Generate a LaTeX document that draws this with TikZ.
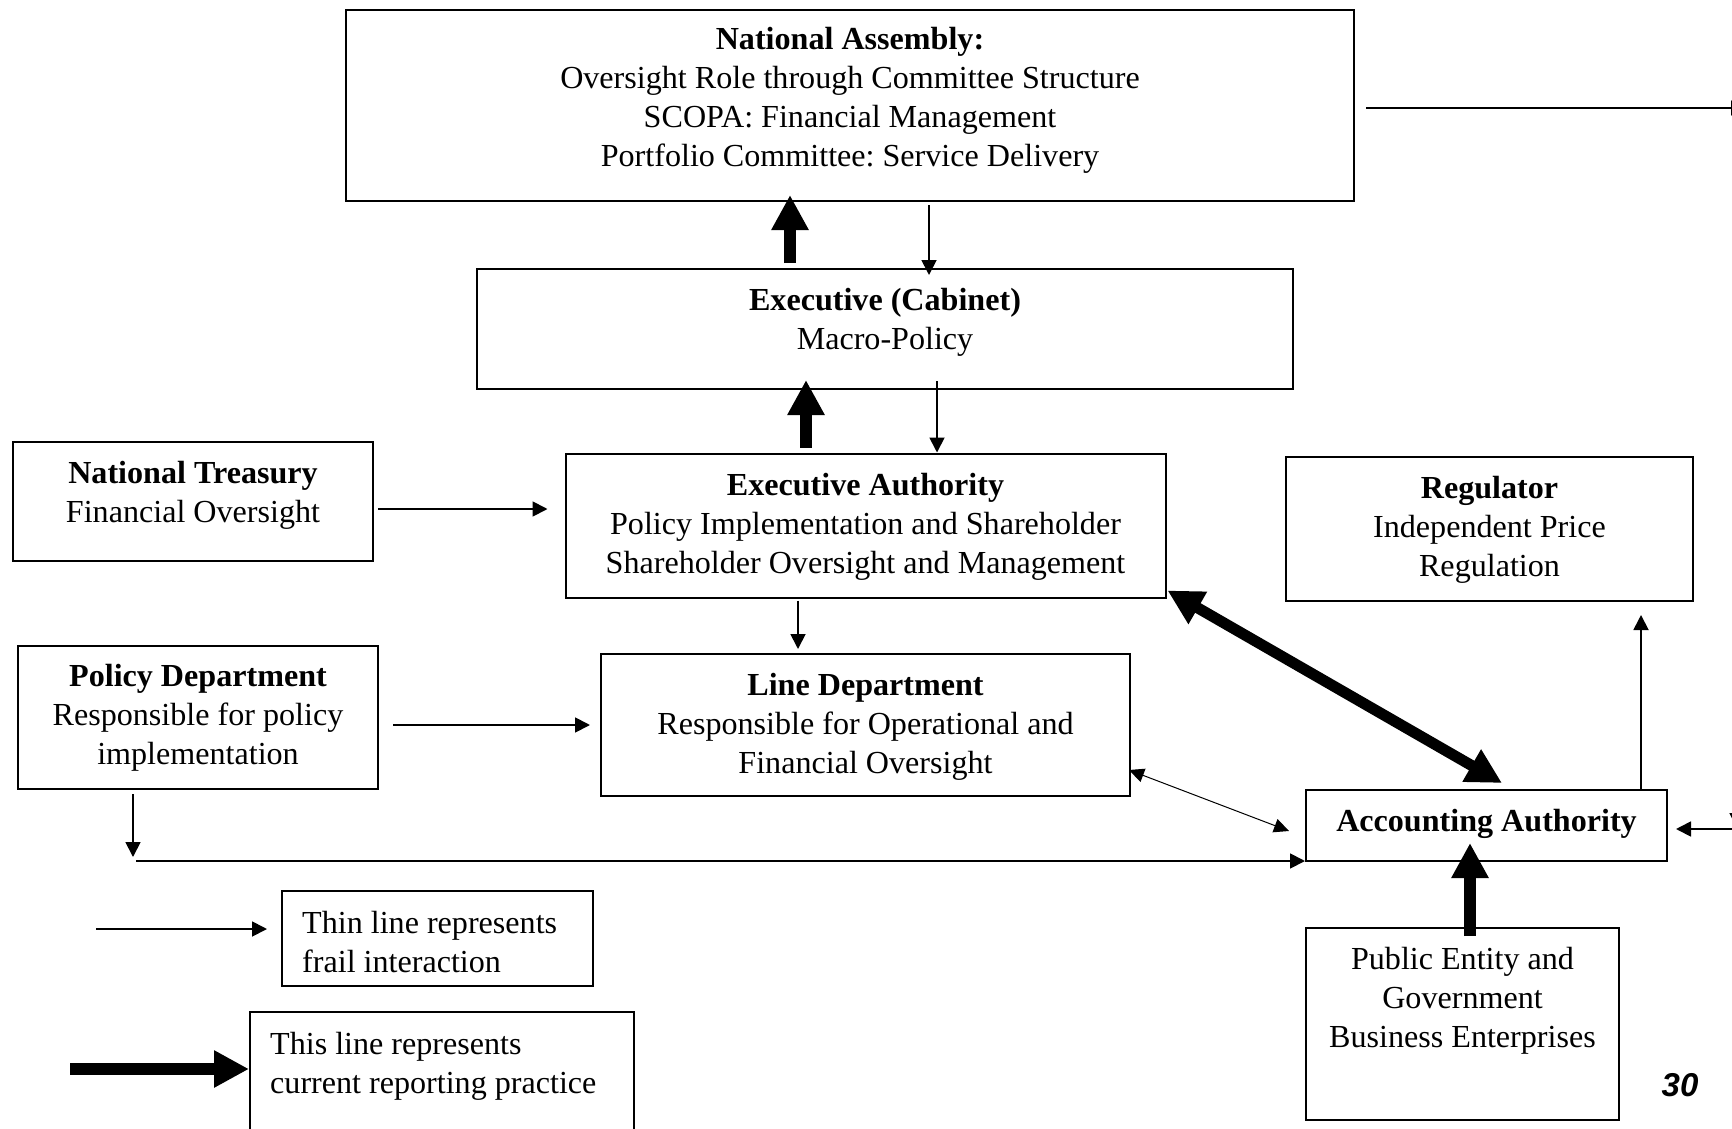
\documentclass[tikz,border=0pt]{standalone}
\usepackage{fontspec}
\setmainfont{Liberation Serif}
\newfontfamily\pagenumfont{Liberation Sans}
\usetikzlibrary{arrows.meta,calc}
\frenchspacing
\begin{document}
\begin{tikzpicture}[x=1pt,y=-1pt,
  box/.style={draw, line width=2pt, rectangle, inner sep=0pt},
  txt/.style={align=center, inner sep=0pt, font=\fontsize{32.1}{39}\selectfont},
  ltxt/.style={align=left, inner sep=0pt, anchor=west, font=\fontsize{32.1}{39}\selectfont},
  thinarrow/.style={line width=1.8pt, -{Triangle[length=15pt,width=15pt]}},
  hairarrow/.style={line width=1pt, {Triangle[length=15pt,width=14pt]}-{Triangle[length=15pt,width=14pt]}},
  thickarrow/.style={line width=12pt, -{Triangle[length=35pt,width=35pt]}},
  thickdouble/.style={line width=11pt, {Triangle[length=35pt,width=35pt]}-{Triangle[length=35pt,width=35pt]}}
]
\useasboundingbox (0,0) rectangle (1732,1129);
\clip (0,0) rectangle (1732,1129);

% boxes
\node[box, minimum width=1008pt, minimum height=191pt] (na) at (850,105.5) {};
\node[box, minimum width=816pt, minimum height=120pt] (cab) at (885,329) {};
\node[box, minimum width=600pt, minimum height=144pt] (exec) at (865.5,525.5) {};
\node[box, minimum width=360pt, minimum height=119pt] (nt) at (193,501.5) {};
\node[box, minimum width=407pt, minimum height=144pt] (reg) at (1489.5,529) {};
\node[box, minimum width=360pt, minimum height=143pt] (pol) at (198,717.5) {};
\node[box, minimum width=529pt, minimum height=142pt] (line) at (865.5,725) {};
\node[box, minimum width=361pt, minimum height=71pt] (acc) at (1486.5,825.5) {};
\node[box, minimum width=313pt, minimum height=192pt] (pe) at (1462.5,1024) {};
\node[box, minimum width=311pt, minimum height=95pt] (leg1) at (437.5,938.5) {};
\node[box, minimum width=384pt, minimum height=138pt] (leg2) at (442,1081) {};

% texts
\node[txt] (naT) at (850,100.5) {\textbf{National Assembly:}\\Oversight Role through Committee Structure\\SCOPA: Financial Management\\Portfolio Committee: Service Delivery};
\node[txt] (cabT) at (885,322.5) {\textbf{Executive (Cabinet)}\\Macro-Policy};
\node[txt] (execT) at (865.5,526.5) {\textbf{Executive Authority}\\Policy Implementation and Shareholder\\Shareholder Oversight and Management};
\node[txt] (ntT) at (193,495) {\textbf{National Treasury}\\Financial Oversight};
\node[txt] (regT) at (1489.5,530) {\textbf{Regulator}\\Independent Price\\Regulation};
\node[txt] (polT) at (198,718) {\textbf{Policy Department}\\Responsible for policy\\implementation};
\node[txt] (lineT) at (865.5,726.5) {\textbf{Line Department}\\Responsible for Operational and\\Financial Oversight};
\node[txt] (accT) at (1486.5,823.5) {\textbf{Accounting Authority}};
\node[txt] (peT) at (1462.5,1001) {Public Entity and\\Government\\Business Enterprises};
\node[ltxt] (leg1T) at (302,942.5) {Thin line represents\\frail interaction};
\node[ltxt] (leg2T) at (270,1066) {This line represents\\current reporting practice};
\node[inner sep=0pt, font=\pagenumfont\bfseries\itshape\fontsize{33}{38}\selectfont] (pg) at (1680,1085) {30};

% thick (reporting) arrows
\draw[thickarrow] ($(790,0 |- cab.north)+(0,-5)$) -- ($(790,0 |- na.south)+(0,-7)$);
\draw[thickarrow] ($(806,0 |- exec.north)+(0,-5)$) -- ($(806,0 |- cab.south)+(0,-10)$);
\draw[thickarrow] ($(1470,0 |- pe.north)+(0,9)$) -- ($(1470,0 |- acc.south)+(0,-19)$);
\draw[thickdouble] ($(exec.south east)+(1,-8)$) -- ($(acc.north)+(15.5,-6)$);

% thin arrows
\draw[thinarrow] ($(929,0 |- na.south)+(0,3)$) -- ($(929,0 |- cab.north)+(0,7)$);
\draw[thinarrow] ($(937,0 |- cab.south)+(0,-9)$) -- (937,0 |- exec.north);
\draw[thinarrow] ($(nt.east)+(4,7.5)$) -- ($(exec.west)+(-17,-16.5)$);
\draw[thinarrow] ($(798,0 |- exec.south)+(0,2)$) -- ($(798,0 |- line.north)+(0,-4)$);
\draw[thinarrow] ($(pol.east)+(14,7.5)$) -- ($(line.west)+(-10,0)$);
\coordinate (pd) at (133,857);
\draw[thinarrow] ($(133,0 |- pol.south)+(0,4)$) -- (pd);
\coordinate (hl) at (136,861);
\draw[thinarrow] (hl) -- (acc.south west |- hl);
\draw[hairarrow] ($(line.east)+(-2,45)$) -- ($(acc.west)+(-16,5.5)$);
\draw[thinarrow] (1641,0 |- acc.north) -- ($(1641,0 |- reg.south)+(0,13)$);

% connectors leaving the page on the right
\coordinate (offA) at (1746,108);
\draw[thinarrow] ($(na.east)+(11,2.5)$) -- (offA);
\coordinate (offB) at (1737,760);
\coordinate (offC) at (1737,828);
\draw[thinarrow] (offB) -- (offC);
\coordinate (offD) at (1750,829);
\draw[thinarrow] (offD) -- ($(acc.east |- offD)+(8,0)$);

% legend arrows
\coordinate (l1a) at (96,929);
\coordinate (l2a) at (70,1069);
\draw[thinarrow] (l1a) -- ($(leg1.west |- l1a)+(-14,0)$);
\draw[thickarrow] (l2a) -- (leg2.west |- l2a);
\end{tikzpicture}
\end{document}
